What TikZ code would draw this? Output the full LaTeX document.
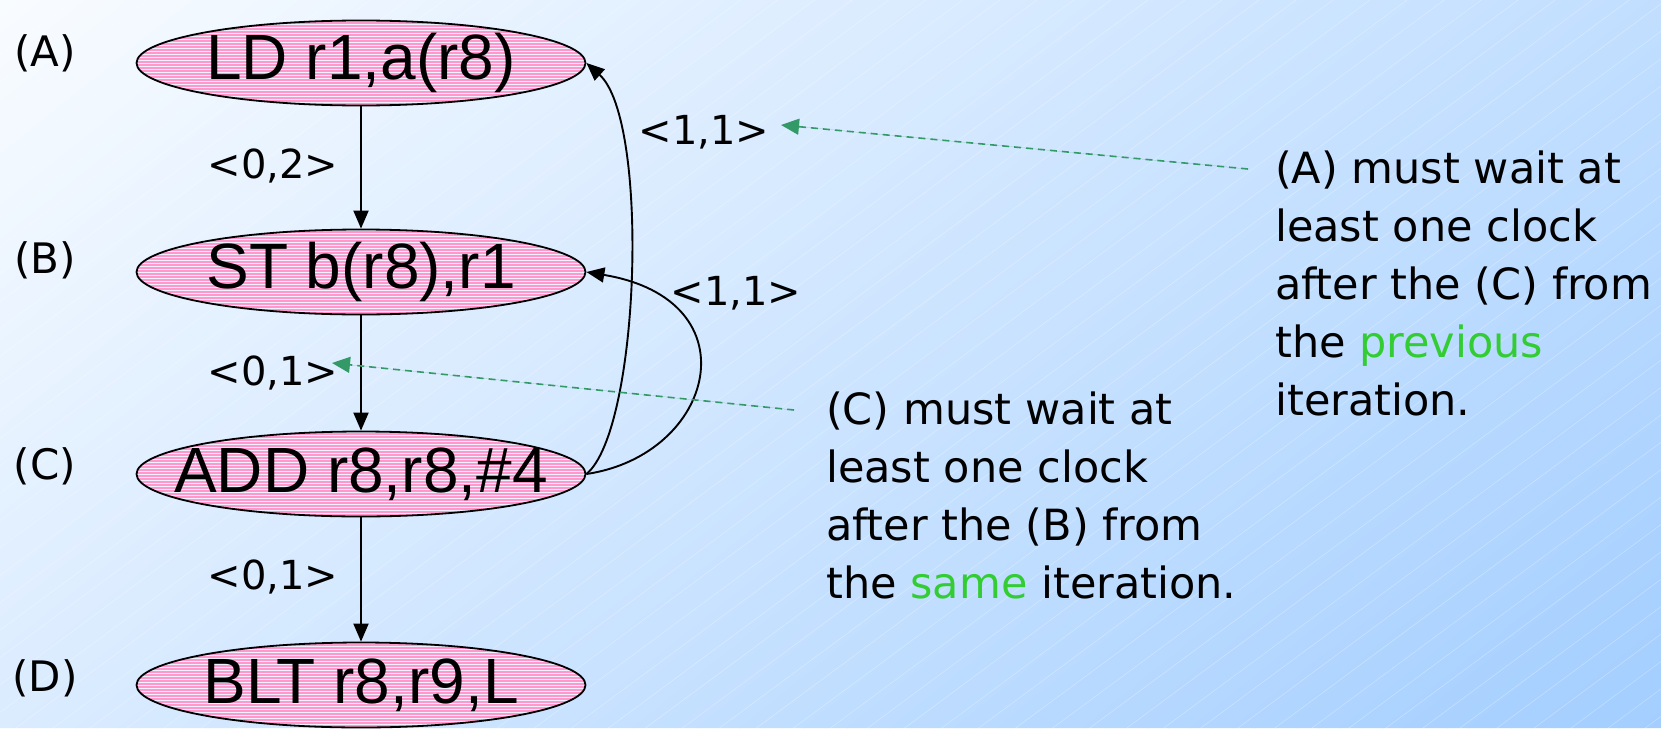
\documentclass[tikz,border=0pt]{standalone}
\usepackage{fontspec}
\setmainfont{DejaVu Sans}
\newfontfamily\arialfont{Liberation Sans}
\usetikzlibrary{arrows.meta,shapes.geometric}
\definecolor{bgA}{RGB}{249,252,255}
\definecolor{bgB}{RGB}{163,206,255}
\definecolor{pinkfill}{RGB}{255,153,204}
\definecolor{stripe}{RGB}{238,240,255}
\definecolor{dashgreen}{RGB}{51,153,102}
\definecolor{wordgreen}{RGB}{51,204,51}
\newcommand{\instrtext}[1]{\makebox[0pt]{#1}}
\begin{document}
\begin{tikzpicture}[x=1pt,y=-1pt,
  instr/.style={ellipse, draw=black, line width=1.8pt, minimum width=449pt, minimum height=85pt, inner sep=0pt,
    font=\arialfont\fontsize{64}{64}\selectfont,
    path picture={\fill[pinkfill] (path picture bounding box.south west) rectangle (path picture bounding box.north east);
      \foreach \k in {-15,...,15} {\draw[stripe, line width=0.9pt] ([yshift=\k*3pt]path picture bounding box.west) -- ([yshift=\k*3pt]path picture bounding box.east);}}},
  tag/.style={font=\fontsize{42}{42}\selectfont, inner sep=0pt},
  elabel/.style={font=\fontsize{40}{40}\selectfont, inner sep=0pt},
  note/.style={font=\fontsize{43}{58}\selectfont, align=left, inner sep=0pt},
  conn/.style={draw=black, line width=1.9pt, -{Triangle[length=18pt,width=15pt]}},
  gdash/.style={draw=dashgreen, fill=dashgreen, line width=1.6pt, dash pattern=on 7pt off 5pt, -{Triangle[length=18pt,width=16pt]}},
  texture/.style={draw=white, draw opacity=0.3, line width=0.6pt}
]
\useasboundingbox (0,0) rectangle (1661,728);
\begin{scope}
\clip (0,0) rectangle (1661,728);
\foreach \i in {0,...,119} {
  \pgfmathsetmacro\fa{\i*21.425}
  \pgfmathsetmacro\fb{\fa+22.5}
  \pgfmathsetmacro\pc{(\i+0.5)/1.2}
  \fill[bgB!\pc!bgA] (\fa,0) -- (\fb,0) -- (\fb-910,728) -- (\fa-910,728) -- cycle;
}
\foreach \j in {1,...,72} {
  \pgfmathsetmacro\cc{\j*27.4}
  \draw[texture] (0,\cc) -- (\cc/0.74,0);
}
\end{scope}

\node[tag] (tA) at (45,53) {(A)};
\node[tag] (tB) at (45,260) {(B)};
\node[tag] (tC) at (45,466) {(C)};
\node[tag] (tD) at (45,678) {(D)};

\node[instr] (A) at (361,63) {\instrtext{LD r1,a(r8)}};
\node[instr] (B) at (361,272) {\instrtext{ST b(r8),r1}};
\node[instr] (C) at (361,474) {\instrtext{ADD r8,r8,\#4}};
\node[instr] (D) at (361,685) {\instrtext{BLT r8,r9,L}};

\draw[conn] (A) -- (B);
\draw[conn] (B) -- (C);
\draw[conn] (C) -- (D);
\draw[conn] (C.east) .. controls (640,430) and (650,120) .. (A.east);
\draw[conn] (C.east) .. controls (715,455) and (755,300) .. (B.east);

\node[elabel] (l02) at (273,166) {<0,2>};
\node[elabel] (l01a) at (273,373) {<0,1>};
\node[elabel] (l01b) at (273,577) {<0,1>};
\node[elabel] (l11a) at (704,132) {<1,1>};
\node[elabel] (l11b) at (736,293) {<1,1>};

\node[note, anchor=north west] (nA) at (1275,151) {(A) must wait at\\least one clock\\after the (C) from\\the \textcolor{wordgreen}{previous}\\iteration.};
\node[note, anchor=north west] (nC) at (826,392) {(C) must wait at\\least one clock\\after the (B) from\\the \textcolor{wordgreen}{same} iteration.};

\coordinate (gAs) at (1248,169);
\coordinate (gAt) at (781,125);
\coordinate (gCs) at (794,410);
\coordinate (gCt) at (332,363);
\draw[gdash] (gAs) -- (gAt);
\draw[gdash] (gCs) -- (gCt);
\end{tikzpicture}
\end{document}
